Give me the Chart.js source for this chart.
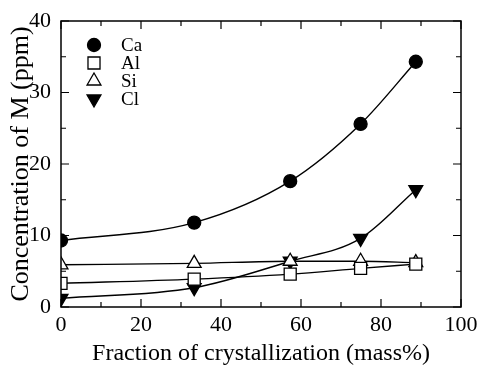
<!DOCTYPE html>
<html>
<head>
<meta charset="utf-8">
<script src="https://cdn.jsdelivr.net/npm/chart.js@4.4.0/dist/chart.umd.min.js"></script>
<style>
  html, body { margin: 0; padding: 0; background: #fff; }
  #wrap { width: 480px; height: 368px; position: relative; }
</style>
</head>
<body>
<div id="wrap"><canvas id="chart"></canvas></div>
<script>
  // fraction of crystallization (mass%)
  var fraction = [0, 33.3, 57.3, 74.9, 88.7];
  // concentrations (ppm)
  var ca = [9.3, 11.8, 17.6, 25.6, 34.3];
  var al = [3.3, 3.9, 4.6, 5.4, 6.0];
  var si = [5.9, 6.1, 6.4, 6.4, 6.2];
  var cl = [1.2, 2.7, 6.4, 9.6, 16.4];

  var xTicks = [0, 20, 40, 60, 80, 100];
  var yTicks = [0, 10, 20, 30, 40];

  var serif = "'Liberation Serif', 'DejaVu Serif', serif";

  function pts(ys){
    var out = [];
    for (var i = 0; i < fraction.length; i++) {
      out.push({x: fraction[i], y: ys[i]});
    }
    return out;
  }

  function series(label, ys, style, fill, radius, rot){
    return {
      label: label,
      data: pts(ys),
      showLine: true,
      borderColor: '#000',
      borderWidth: 1.4,
      tension: 0.4,
      cubicInterpolationMode: 'monotone',
      pointStyle: style,
      pointRadius: radius,
      pointRotation: rot || 0,
      pointBackgroundColor: fill,
      pointBorderColor: '#000',
      pointBorderWidth: 1.3
    };
  }

  // inward ticks on all four sides + legend in the upper left
  var frame = {
    id: 'frame',
    afterDraw: function(chart){
      var ctx = chart.ctx, a = chart.chartArea;
      var xs = chart.scales.x, ys = chart.scales.y;
      ctx.save();
      ctx.strokeStyle = '#000';
      ctx.lineWidth = 1.5;
      ctx.strokeRect(a.left, a.top, a.right - a.left, a.bottom - a.top);
      ctx.lineWidth = 1.2;
      ctx.beginPath();
      for (var v = 0; v <= 100; v += 10) {
        var px = xs.getPixelForValue(v);
        var len = (v % 20 === 0) ? 8 : 5;
        ctx.moveTo(px, a.bottom); ctx.lineTo(px, a.bottom - len);
        ctx.moveTo(px, a.top); ctx.lineTo(px, a.top + len);
      }
      for (var w = 0; w <= 40; w += 5) {
        var py = ys.getPixelForValue(w);
        var l2 = (w % 10 === 0) ? 8 : 5;
        ctx.moveTo(a.left, py); ctx.lineTo(a.left + l2, py);
        ctx.moveTo(a.right, py); ctx.lineTo(a.right - l2, py);
      }
      ctx.stroke();

      // legend
      var rows = [45, 63, 81, 99];
      ctx.font = '19px ' + serif;
      ctx.textBaseline = 'middle';
      chart.data.datasets.forEach(function(ds, i){
        ctx.fillStyle = ds.pointBackgroundColor;
        ctx.strokeStyle = '#000';
        ctx.lineWidth = 1.3;
        Chart.helpers.drawPoint(ctx, {
          pointStyle: ds.pointStyle,
          radius: ds.pointRadius,
          rotation: ds.pointRotation,
          borderWidth: 1.3
        }, 94, rows[i]);
        ctx.fillStyle = '#000';
        ctx.fillText(ds.label, 121, rows[i] + 1);
      });
      ctx.restore();
    }
  };

  new Chart(document.getElementById('chart').getContext('2d'), {
    type: 'scatter',
    data: {
      datasets: [
        series('Ca', ca, 'circle', '#000', 6.5),
        series('Al', al, 'rect', '#fff', 8.5),
        series('Si', si, 'triangle', '#fff', 8),
        series('Cl', cl, 'triangle', '#000', 8, 180)
      ]
    },
    options: {
      responsive: true,
      maintainAspectRatio: false,
      animation: false,
      layout: { padding: { top: 21, right: 19, left: 0, bottom: 0 } },
      plugins: { legend: { display: false }, tooltip: { enabled: false } },
      scales: {
        x: {
          type: 'linear',
          min: 0, max: 100,
          afterBuildTicks: function(s){ s.ticks = xTicks.map(function(v){ return {value: v}; }); },
          afterFit: function(s){ s.height = 61; },
          grid: { display: false },
          border: { display: false },
          ticks: { color: '#000', font: { family: serif, size: 22 }, padding: -3, maxRotation: 0, autoSkip: false },
          title: { display: true, text: 'Fraction of crystallization (mass%)', color: '#000',
                   font: { family: serif, size: 24 }, padding: { top: 0, bottom: 0 } }
        },
        y: {
          type: 'linear',
          min: 0, max: 40,
          afterBuildTicks: function(s){ s.ticks = yTicks.map(function(v){ return {value: v}; }); },
          afterFit: function(s){ s.width = 61; },
          grid: { display: false },
          border: { display: false },
          ticks: { color: '#000', font: { family: serif, size: 22 }, padding: 2 },
          title: { display: true, text: 'Concentration of M (ppm)', color: '#000',
                   font: { family: serif, size: 26 }, padding: { top: 6, bottom: 0 } }
        }
      }
    },
    plugins: [frame]
  });
</script>
</body>
</html>
